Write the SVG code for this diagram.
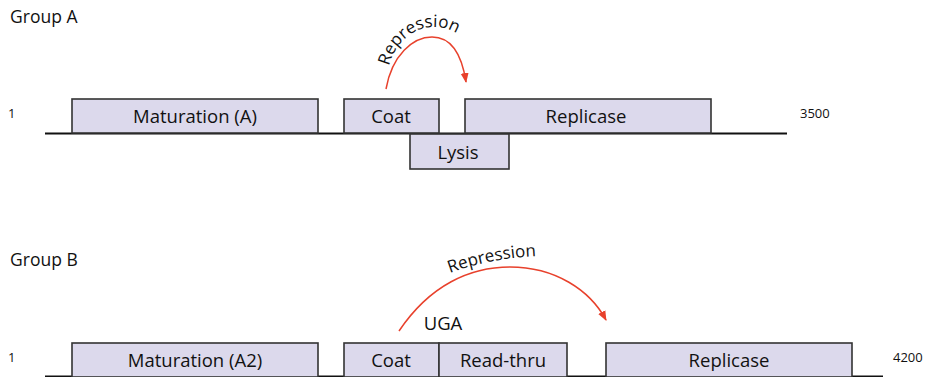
<svg xmlns="http://www.w3.org/2000/svg" width="943" height="377" viewBox="0 0 943 377">
<style>
.box{fill:#dcd9ec;stroke:#333;stroke-width:1.6}
.lbl{font-family:"Open Sans","Liberation Sans",sans-serif;font-size:18.5px;fill:#111;text-anchor:middle}
.title{font-family:"Open Sans","Liberation Sans",sans-serif;font-size:17.5px;fill:#111}
.num{font-family:"Open Sans","Liberation Sans",sans-serif;font-size:13px;fill:#111}
.axis{stroke:#111;stroke-width:2;fill:none}
.arc{stroke:#e8412c;stroke-width:1.5;fill:none;marker-end:url(#ah)}
.rep{font-family:"Open Sans","Liberation Sans",sans-serif;font-size:17px;fill:#111}
</style>
<defs>
<marker id="ah" markerWidth="10" markerHeight="10" refX="9" refY="5" orient="auto" markerUnits="userSpaceOnUse">
<path d="M0,1 L10,5 L0,9 Z" fill="#e8412c"/>
</marker>
<path id="tpA" d="M389,66 C395,42 414,27 434,27 C452,27 466,37 476,54"/>
<path id="tpB" d="M450,273 C480,262 515,255 560,256"/>
</defs>

<text class="title" x="10" y="23">Group A</text>
<text class="num" x="8" y="118">1</text>
<text class="num" x="800" y="118">3500</text>
<line class="axis" x1="45" y1="133.5" x2="787" y2="133.5"/>

<g id="matA"><rect class="box" x="72" y="99" width="246" height="34"/><text class="lbl" x="195" y="123">Maturation (A)</text></g>
<g id="coatA"><rect class="box" x="344" y="99" width="95" height="34"/><text class="lbl" x="391" y="123">Coat</text></g>
<g id="repA"><rect class="box" x="465" y="99" width="246" height="34"/><text class="lbl" x="586" y="123">Replicase</text></g>
<g id="lysisA"><rect class="box" x="410" y="134" width="99" height="35"/><text class="lbl" x="458" y="159">Lysis</text></g>

<text class="title" x="10" y="266">Group B</text>
<text class="num" x="8" y="362">1</text>
<text class="num" x="893" y="362">4200</text>
<line class="axis" x1="45" y1="376.5" x2="883" y2="376.5"/>

<g id="matB"><rect class="box" x="72" y="343" width="246" height="34"/><text class="lbl" x="195" y="367">Maturation (A2)</text></g>
<g id="coatB"><rect class="box" x="344" y="343" width="95" height="34"/><text class="lbl" x="391" y="367">Coat</text></g>
<g id="rtB"><rect class="box" x="439" y="343" width="128" height="34"/><text class="lbl" x="503" y="367">Read-thru</text></g>
<g id="repB"><rect class="box" x="606" y="343" width="246" height="34"/><text class="lbl" x="729" y="367">Replicase</text></g>
<text class="lbl" x="443" y="330">UGA</text>

<g id="connectors">
<path class="arc" d="M386,89 C392,55 413,37 432,37 C452,37 462,56 466,82"/>
<path class="arc" d="M399,331 C430,285 470,267 510,267 C555,267 590,290 606,320"/>
</g>
<text class="rep"><textPath href="#tpA">Repression</textPath></text>
<text class="rep"><textPath href="#tpB">Repression</textPath></text>
</svg>
